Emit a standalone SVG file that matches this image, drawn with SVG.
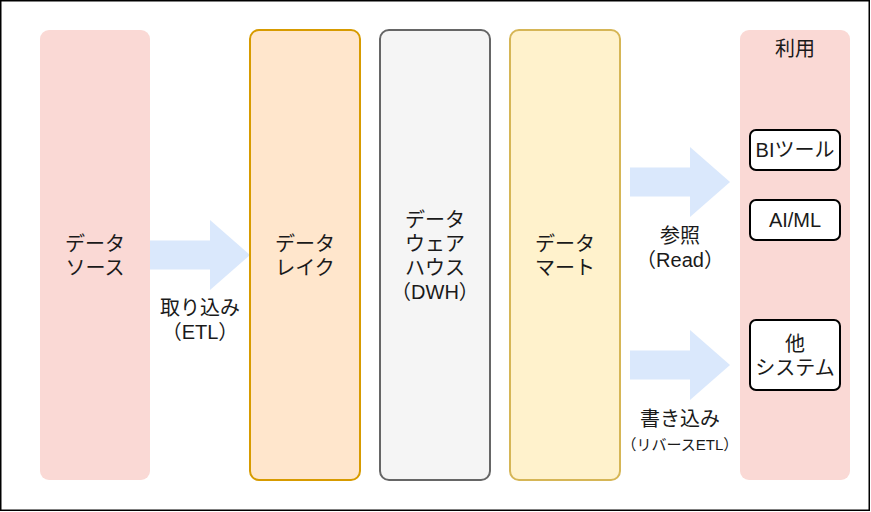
<svg xmlns="http://www.w3.org/2000/svg" width="871" height="512" viewBox="0 0 871 512">
<style>
text{font-family:"Liberation Sans","Noto Sans CJK JP",sans-serif;font-size:20px;fill:#1a1a1a;text-anchor:middle}
.sm{font-size:15px}
.arrow{fill:#dae8fc;stroke:none}
.col{stroke-width:2}
.tool{fill:#ffffff;stroke:#000000;stroke-width:2}
</style>
<rect x="0.75" y="0.75" width="868.5" height="509.5" fill="#ffffff" stroke="#000000" stroke-width="1.5"/>
<g id="connectors">
<polygon class="arrow" points="150,240.5 210,240.5 210,220 250,255 210,290 210,269.5 150,269.5"/>
<polygon class="arrow" points="630,167.5 690,167.5 690,147 730,182 690,217 690,196.5 630,196.5"/>
<polygon class="arrow" points="630,350.5 690,350.5 690,330 730,365 690,400 690,379.5 630,379.5"/>
<text x="200" y="315">取り込み</text>
<text x="200" y="339">（ETL）</text>
<text x="680" y="243">参照</text>
<text x="680" y="267">（Read）</text>
<text x="680" y="426">書き込み</text>
<text class="sm" x="680" y="450">（リバースETL）</text>
</g>
<g id="source">
<rect x="40" y="30" width="110" height="450" rx="9" fill="#fad9d5"/>
<text x="95" y="251">データ</text>
<text x="95" y="275">ソース</text>
</g>
<g id="lake">
<rect class="col" x="250" y="30" width="110" height="450" rx="9" fill="#ffe6cc" stroke="#d79b00"/>
<text x="305" y="251">データ</text>
<text x="305" y="275">レイク</text>
</g>
<g id="dwh">
<rect class="col" x="380" y="30" width="110" height="450" rx="9" fill="#f5f5f5" stroke="#666666"/>
<text x="435" y="227">データ</text>
<text x="435" y="251">ウェア</text>
<text x="435" y="275">ハウス</text>
<text x="435" y="299">（DWH）</text>
</g>
<g id="mart">
<rect class="col" x="510" y="30" width="110" height="450" rx="9" fill="#fff2cc" stroke="#d6b656"/>
<text x="565" y="251">データ</text>
<text x="565" y="275">マート</text>
</g>
<g id="use">
<rect x="740" y="30" width="110" height="450" rx="9" fill="#fad9d5"/>
<text x="795" y="56">利用</text>
</g>
<g id="bi">
<rect class="tool" x="750" y="130" width="90" height="40" rx="6"/>
<text x="795" y="157">BIツール</text>
</g>
<g id="aiml">
<rect class="tool" x="750" y="200" width="90" height="40" rx="6"/>
<text x="795" y="227">AI/ML</text>
</g>
<g id="other">
<rect class="tool" x="750" y="320" width="90" height="70" rx="6"/>
<text x="795" y="351">他</text>
<text x="795" y="375">システム</text>
</g>
</svg>
